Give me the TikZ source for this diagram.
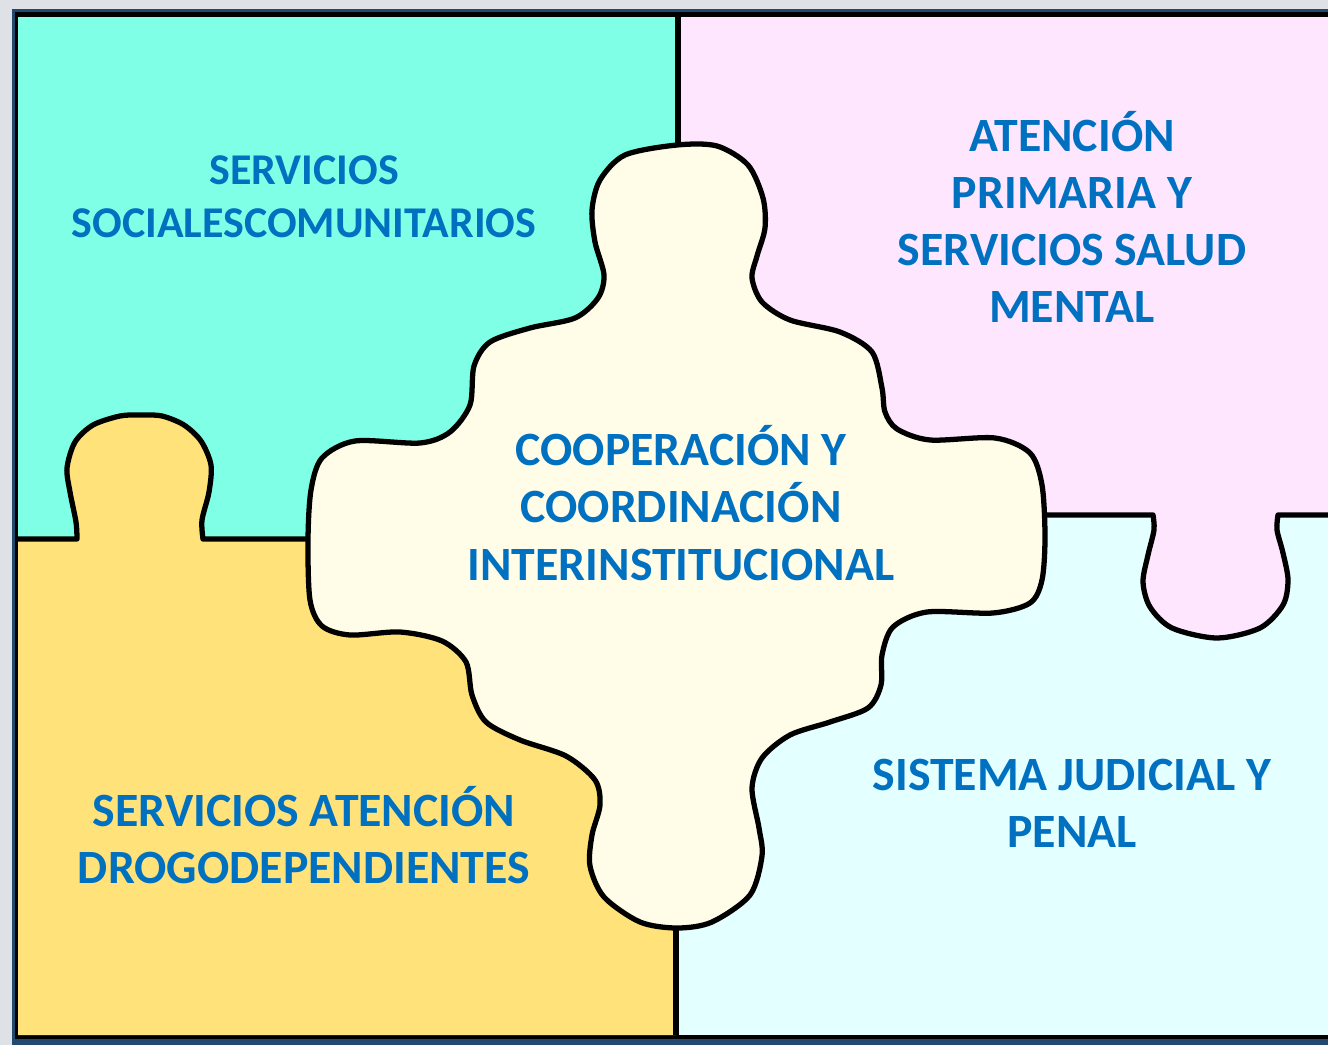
\documentclass[tikz,border=0pt]{standalone}
\usepackage{fontspec}
\setmainfont{Carlito}
\usepackage{tikz}
\definecolor{slidegray}{HTML}{DEE1E6}
\definecolor{framblue}{HTML}{24496F}
\definecolor{social}{HTML}{7FFFE6}
\definecolor{salud}{HTML}{FFE6FF}
\definecolor{drogas}{HTML}{FFE27A}
\definecolor{judicial}{HTML}{E3FFFF}
\definecolor{coop}{HTML}{FFFDE8}
\definecolor{txtblue}{HTML}{0070C0}

\begin{document}
\begin{tikzpicture}[x=0.02cm,y=-0.02cm]
    \tikzstyle edge=[line width=3pt,black,line join=round]
    \tikzstyle label=[text=txtblue,align=center,font=\bfseries\fontsize{27.2}{32.6}\selectfont]
    \useasboundingbox (0,0) rectangle (1328,1045);
    % slide and frame
    \fill[slidegray] (0,0) rectangle (1328,1045);
    \fill[framblue] (12,9) rectangle (1328,1045);
    \fill[black] (15,12) rectangle (1328,1039);
    % the four pieces
    \fill[social] (18,17) rectangle (678,539);
    \fill[salud] (678,17) rectangle (1328,515);
    \fill[judicial] (676,515) rectangle (1328,1035);
    \fill[drogas] (18,1035) -- (18,539) -- plot[smooth] coordinates {(77,539) (76,522) (70,492) (67,468) (75,442) (93,425) (120,416) (140,415) (162,416) (184,425) (201,441) (211,465) (209,492) (202,520) (203,539)} -- (676,539) -- (676,1035) -- cycle;
    \fill[salud] plot[smooth] coordinates {(1153,513) (1154,530) (1148,555) (1143,582) (1150,607) (1172,628) (1217,638) (1260,628) (1283,605) (1288,580) (1283,553) (1277,530) (1278,513)} -- cycle;
    % joints between the pieces
    \draw[edge] (678,17) -- (678,300);
    \draw[edge] (676,800) -- (676,1035);
    \draw[edge] (18,539) -- plot[smooth] coordinates {(77,539) (76,522) (70,492) (67,468) (75,442) (93,425) (120,416) (140,415) (162,416) (184,425) (201,441) (211,465) (209,492) (202,520) (203,539)} -- (400,539);
    \draw[edge] (950,515) -- plot[smooth] coordinates {(1153,515) (1154,530) (1148,555) (1143,582) (1150,607) (1172,628) (1217,638) (1260,628) (1283,605) (1288,580) (1283,553) (1277,530) (1278,515)} -- (1328,515);
    % centre piece
    \filldraw[edge,fill=coop] plot[smooth cycle] coordinates {
      (677,145) (717,146) (748,165) (763,198) (765,228) (757,256) (752,278)
      (762,302) (790,320) (840,332) (872,352) (882,388) (885,412) (897,429)
      (930,440) (995,438) (1030,453) (1042,485) (1045,537) (1042,580)
      (1030,603) (993,613) (927,612) (893,627) (882,655) (881,685) (868,708)
      (830,722) (790,735) (762,758) (752,788) (759,828) (762,856) (750,895)
      (712,922) (677,928) (640,922) (604,897) (590,866) (592,835) (600,805)
      (595,780) (566,756) (520,740) (486,722) (472,695) (466,662) (442,641)
      (400,632) (350,635) (322,626) (310,600) (308,540) (311,490) (322,458)
      (355,441) (420,443) (450,432) (470,405) (474,366) (490,342) (530,328)
      (575,318) (598,298) (604,275) (595,242) (592,210) (600,180) (625,155)};
    % labels
    \node[label,font=\bfseries\fontsize{25}{30.2}\selectfont] (social) at (304,197) {SERVICIOS\\SOCIALESCOMUNITARIOS};
    \node[label] (salud) at (1072,217) {ATENCIÓN\\PRIMARIA Y\\SERVICIOS SALUD\\MENTAL};
    \node[label] (coord) at (681,503) {COOPERACIÓN Y\\COORDINACIÓN\\INTERINSTITUCIONAL};
    \node[label] (drogas) at (304,835) {SERVICIOS ATENCIÓN\\DROGODEPENDIENTES};
    \node[label] (judicial) at (1072,803) {SISTEMA JUDICIAL Y\\PENAL};
\end{tikzpicture}
\end{document}
